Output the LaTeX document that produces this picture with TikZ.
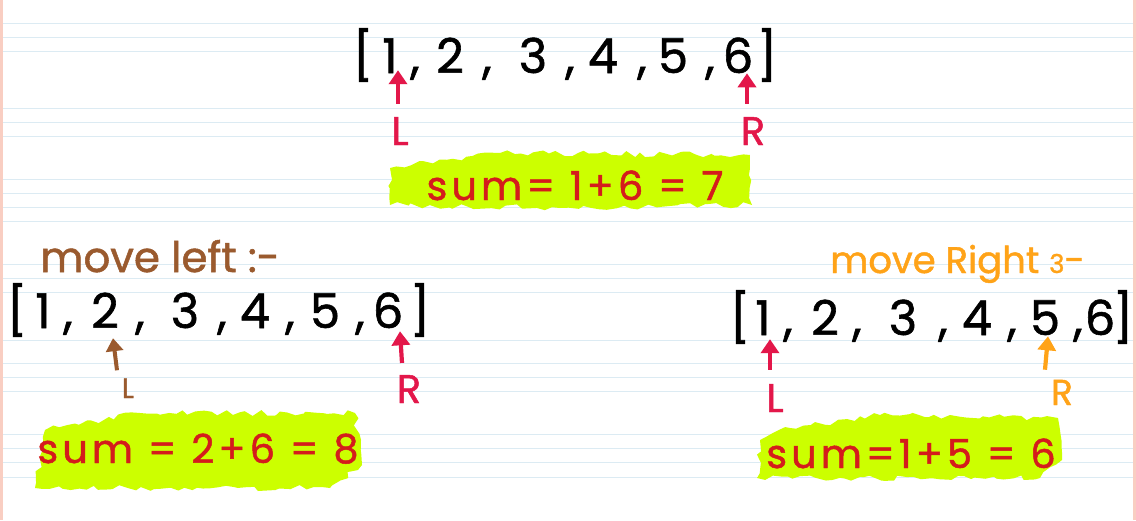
\documentclass[tikz,border=0pt]{standalone}
\usepackage{fontspec}
\setmainfont{Poppins}[FakeBold=1.2]
\usetikzlibrary{arrows.meta,decorations.pathmorphing}
\definecolor{penred}{HTML}{E3174A}
\definecolor{sumred}{HTML}{D41C1C}
\definecolor{hl}{HTML}{CCFF00}
\definecolor{brownink}{HTML}{9A5A2E}
\definecolor{orangeink}{HTML}{FFA318}
\definecolor{ruled}{HTML}{DCEBF3}
\definecolor{marginred}{HTML}{F9CEC2}
\newcommand\cma{,}
\newcommand\lbr{[}
\newcommand\rbr{]}
\tikzset{
  ch/.style={anchor=base, inner sep=0pt, font=\fontsize{48}{48}\selectfont},
  lab/.style={anchor=base, inner sep=0pt, font=\fontsize{40}{40}\selectfont},
  smalllab/.style={anchor=base, inner sep=0pt, font=\fontsize{28}{28}\selectfont},
  ptr/.style={line width=4.2pt, -{Triangle[length=14pt,width=18pt]}},
  smallptr/.style={line width=4pt, -{Triangle[length=13pt,width=17pt]}},
  hilite/.style={fill=hl, decorate, decoration={random steps, segment length=7pt, amplitude=3pt}},
  sumtxt/.style={anchor=base, inner sep=0pt, text=sumred, font=\fontsize{40}{40}\selectfont\addfontfeature{LetterSpace=10}},
  movetxt/.style={anchor=base west, inner sep=0pt, font=\fontsize{42}{42}\selectfont},
}
\begin{document}
\begin{tikzpicture}[x=1pt,y=-1pt]
\pgfmathsetseed{7}
\useasboundingbox (0,0) rectangle (1136,520);
\fill[white] (0,0) rectangle (1136,520);
\foreach \yy in {23,37,51,108,122,136,179,193,207,221,264,278,292,340,363,377,391,434,448,462,477}
  \draw[ruled, line width=1pt] (0,\yy) -- (1136,\yy);
\draw[marginred, line width=3pt] (1.5,0) -- (1.5,520);
\draw[marginred, line width=3pt] (1134.5,0) -- (1134.5,520);

% highlights
\path[hilite] (390,168) -- (500,153) -- (750,155) -- (752,205) -- (560,208) -- (390,205) -- cycle;
\path[hilite] (35,488) -- (45,430) -- (140,413) -- (355,413) -- (362,465) -- (330,488) -- cycle;
\path[hilite] (757,478) -- (760,440) -- (790,428) -- (880,415) -- (1058,418) -- (1062,460) -- (1040,478) -- cycle;

% top array
\foreach \c/\x [count=\i] in {\lbr/363,1/390,\cma/415,2/450,\cma/487,3/533,\cma/570,4/603,\cma/642,5/673,\cma/710,6/738,\rbr/767}
  \node[ch] (a\i) at (\x,73) {\c};
\node[lab, text=penred] (tL) at (400,145) {L};
\node[lab, text=penred] (tR) at (753,145) {R};
\draw[ptr, penred, shorten <=13pt, shorten >=-3pt] ([xshift=-2pt]tL.north) -- ([xshift=-2pt]tL.north |- a2.south);
\draw[ptr, penred, shorten <=13pt, shorten >=0pt] ([xshift=-6pt]tR.north) -- ([xshift=-6pt]tR.north |- a12.south);
\node[sumtxt] (s1) at (575,200) {sum= 1+6 = 7};

% bottom left
\node[movetxt, text=brownink] (ml) at (40,272) {move left :-};
\foreach \c/\x [count=\i] in {\lbr/17,1/43,\cma/68,2/105,\cma/140,3/185,\cma/222,4/255,\cma/290,5/325,\cma/360,6/388,\rbr/420}
  \node[ch] (b\i) at (\x,328) {\c};
\node[smalllab, text=brownink] (bL) at (128,398) {L};
\node[lab, text=penred] (bR) at (409,403) {R};
\draw[smallptr, brownink] ([shift={(-11,-8)}]bL.north) -- ([shift={(8,10)}]b4.south);
\draw[ptr, penred] ([shift={(-7,-12)}]bR.north) -- ([shift={(12,3)}]b12.south);
\node[sumtxt] (s2) at (198,463) {sum = 2+6 = 8};

% bottom right
\node[movetxt, text=orangeink, font=\fontsize{37}{37}\selectfont] (mr) at (830,273) {move Right {\fontsize{26}{26}\selectfont 3}-};
\foreach \c/\x [count=\i] in {\lbr/740,1/763,\cma/788,2/825,\cma/857,3/903,\cma/943,4/977,\cma/1012,5/1045,\cma/1078,6/1100,\rbr/1123}
  \node[ch] (c\i) at (\x,335) {\c};
\node[lab, text=penred] (cL) at (775,412) {L};
\node[lab, text=orangeink, font=\fontsize{36}{36}\selectfont] (cR) at (1062,405) {R};
\draw[ptr, penred, shorten <=14pt] ([xshift=-5pt]cL.north) -- ([shift={(7,4)}]c2.south);
\draw[ptr, orangeink] ([shift={(-17,-10)}]cR.north) -- ([shift={(3,1)}]c10.south);
\node[sumtxt] (s3) at (911,468) {sum=1+5 = 6};
\end{tikzpicture}
\end{document}
